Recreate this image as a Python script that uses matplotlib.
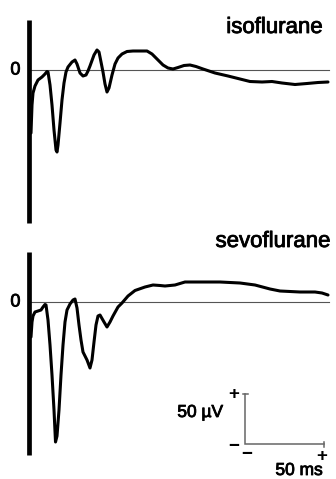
import matplotlib.pyplot as plt
import matplotlib.patheffects as pe

plt.rcParams['font.family'] = ['Liberation Sans', 'DejaVu Sans']

# --- DATA (time in ms, amplitude in uV) ---
t_iso = [0.63, 1.27, 1.90, 3.16, 5.06, 7.59, 9.49, 10.76, 11.39, 12.66, 13.92,
         15.19, 16.46, 17.09, 17.72, 18.99, 20.25, 21.52, 22.78, 24.05, 26.58,
         28.48, 29.75, 31.65, 33.54, 35.44, 36.71, 37.97, 40.51, 42.40, 43.67,
         44.94, 46.20, 47.47, 48.73, 50.00, 51.90, 53.80, 55.70, 58.23, 61.39,
         65.19, 74.05, 77.22, 80.38, 84.18, 87.34, 90.51, 93.67, 97.47, 101.27,
         105.06, 109.49, 117.09, 125.32, 132.91, 139.24, 146.84, 153.16,
         159.49, 167.72, 175.32, 182.28, 188.61]
v_iso = [-63, -35, -23, -16, -10, -7, -4, -1.5, -2, -15, -35,
         -60, -80, -82, -75, -53, -30, -13, -2, 3, 8,
         10, 6, -3, -6, -5, -1, 4, 15, 20, 18,
         8, -2, -14, -22, -18, -5, 6, 12, 16, 18.5,
         19, 19, 16, 11, 5, 2, 1, 2.5, 4.5, 5,
         3.5, 1, -3, -6, -9, -11.5, -12, -11.5,
         -13, -14.5, -13.5, -12.5, -12]

t_sevo = [0.63, 1.27, 1.90, 3.16, 5.06, 6.96, 8.23, 9.49, 10.13, 11.39, 12.66,
          13.92, 15.19, 16.14, 17.09, 18.35, 19.62, 20.89, 22.15, 23.42, 25.32,
          27.22, 28.48, 29.75, 31.01, 32.28, 33.54, 36.08, 37.97, 39.24, 40.51,
          41.77, 43.04, 44.30, 46.84, 48.73, 50.63, 52.53, 55.70, 58.23, 62.03,
          66.46, 72.78, 77.85, 82.28, 85.44, 91.77, 98.10, 107.59, 120.25,
          132.91, 142.41, 151.90, 158.23, 170.89, 180.38, 184.81, 188.61]
v_sevo = [-35, -20, -14, -10, -9, -8, -5, -2.5, -3, -18, -43,
          -73, -108, -140, -134, -108, -73, -43, -20, -8, -2,
          2, 3, -6, -23, -38, -50, -58, -66, -58, -40,
          -23, -14, -13, -20, -25, -20, -14, -5, -1, 6,
          11.5, 15, 17, 16.5, 16, 17, 20, 20, 20,
          19, 17, 13, 11, 10, 10, 9, 7]

panels = ['isoflurane', 'sevoflurane']
traces = [(t_iso, v_iso), (t_sevo, v_sevo)]

bar_top, bar_bottom = 50, -153      # calibration bar on the left (uV)
zero_end = 189                      # ms
sb_len_ms, sb_len_uv = 50, 50       # scale bar

fig = plt.figure(figsize=(3.36, 4.79), dpi=100)
H = 479.0
axes_px = [(0, 240), (240, 479)]    # pixel rows of each panel
ylims = [(-170, 70), (-177, 62)]

embolden = [pe.withStroke(linewidth=0.6, foreground='black')]

for i, (name, (t, v)) in enumerate(zip(panels, traces)):
    y0, y1 = axes_px[i]
    ax = fig.add_axes([0, 1 - y1 / H, 1, (y1 - y0) / H])
    ax.set_xlim(-18.99, 193.67)
    ax.set_ylim(*ylims[i])
    ax.axis('off')

    ax.plot([0, zero_end], [0, 0], color='#555555', lw=0.8, zorder=1)
    ax.plot([-0.4, -0.4], [bar_bottom, bar_top], color='black', lw=3.4,
            solid_capstyle='butt', zorder=3)
    ax.plot(t, v, color='black', lw=2.2, solid_joinstyle='round',
            solid_capstyle='round', zorder=2)

    ax.text(-9.2, 0, '0', fontsize=13, ha='center', va='center',
            path_effects=embolden)

    if i == 0:
        ax.text(185.4, 37, name, fontsize=16, ha='right', va='baseline',
                path_effects=embolden)
    else:
        ax.text(190.3, 55, name, fontsize=16, ha='right', va='baseline',
                path_effects=embolden)

        # scale bar
        sx, sy = 136.1, -142
        ax.plot([sx, sx, sx + sb_len_ms], [sy + sb_len_uv, sy, sy],
                color='#666666', lw=1.1, solid_joinstyle='miter')
        ax.plot([sx - 1.6, sx + 1.6], [sy + sb_len_uv] * 2, color='#666666', lw=1.1)
        ax.plot([sx + sb_len_ms] * 2, [sy - 2.5, sy + 2.5], color='#666666', lw=1.1)
        ax.text(122.2, -115, '50 µV', fontsize=12.5, ha='right', va='baseline',
                path_effects=embolden)
        ax.text(185.4, -173, '50 ms', fontsize=12.5, ha='right', va='baseline',
                path_effects=embolden)
        ax.text(129.0, -92, '+', fontsize=13.5, ha='center', va='center', weight='bold')
        ax.text(129.1, -144, '−', fontsize=13.5, ha='center', va='center', weight='bold')
        ax.text(137.3, -152, '−', fontsize=13.5, ha='center', va='center', weight='bold')
        ax.text(184.8, -154, '+', fontsize=13.5, ha='center', va='center', weight='bold')

fig.savefig('out.png', dpi=100)
